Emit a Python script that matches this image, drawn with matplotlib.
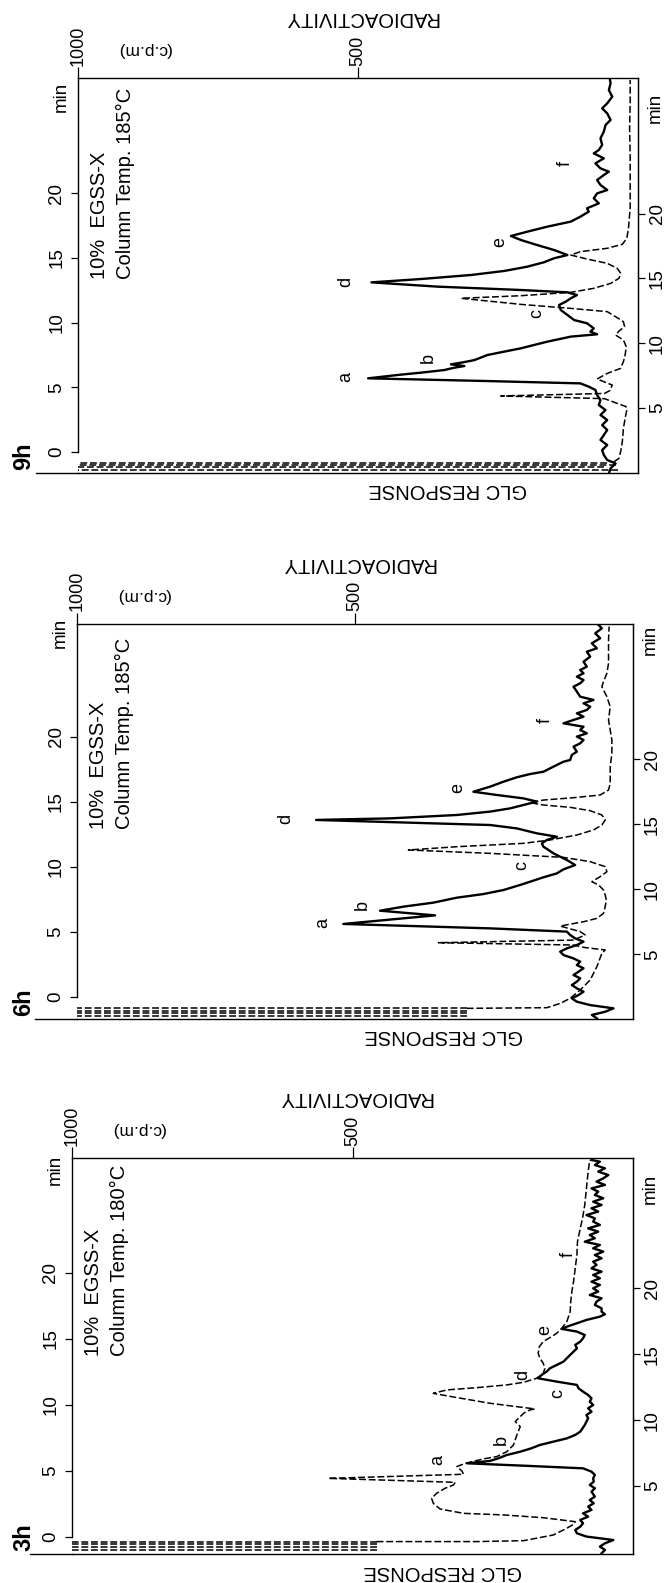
import matplotlib.pyplot as plt
from matplotlib.transforms import blended_transform_factory

W, H = 666, 1583
FONT = ["Liberation Sans", "DejaVu Sans"]

# ---------------- 9h ----------------
t9_rad = [-1.65, -1.26, -0.88, -0.62, -0.23, 0.15, 0.54, 0.93, 1.31, 1.70, 2.08, 2.47, 2.86, 3.24, 3.63,
          4.02, 4.40, 4.79, 5.05, 5.30, 5.48, 5.69, 5.95, 6.13, 6.33, 6.51, 6.64, 6.77, 6.92, 7.10, 7.49,
          8.01, 8.52, 8.91, 9.09, 9.29, 9.55, 9.94, 10.19, 10.58, 10.97, 11.35, 11.61, 11.87, 12.12, 12.33,
          12.51, 12.77, 13.10, 13.36, 13.67, 13.98, 14.31, 14.65, 14.96, 15.21, 15.60, 15.98, 16.37, 16.68,
          17.01, 17.40, 17.79, 18.17, 18.56, 18.82, 19.20, 19.59, 19.97, 20.23, 20.62, 21.00, 21.39, 21.65,
          21.90, 22.29, 22.68, 23.06, 23.32, 23.71, 24.22, 24.74, 25.25, 25.64, 26.15, 26.54, 26.92, 27.44,
          27.95, 28.47, 28.73]
v9_rad = [52, 49, 40, 55, 61, 64, 55, 67, 61, 55, 64, 55, 67, 58, 70, 67, 73, 76, 88, 103, 269, 482, 429,
          387, 346, 328, 310, 334, 313, 292, 269, 209, 162, 120, 73, 85, 79, 91, 114, 126, 138, 141, 129,
          120, 109, 126, 209, 358, 476, 387, 298, 239, 198, 168, 150, 126, 150, 180, 209, 227, 198, 162,
          120, 103, 88, 91, 70, 79, 73, 55, 67, 73, 61, 52, 67, 76, 61, 79, 70, 64, 67, 61, 58, 49, 55, 64,
          55, 46, 52, 49, 50]
t9_glc = [-0.75, -0.49, 0.03, 0.80, 1.83, 2.60, 3.24, 3.50, 4.12, 4.33, 4.52, 4.75, 5.17, 5.64, 6.07, 6.46,
          6.98, 7.49, 8.13, 8.65, 9.03, 9.34, 9.68, 10.06, 10.37, 10.84, 11.09, 11.40, 11.87, 12.07, 12.33,
          12.64, 13.02, 13.41, 13.80, 14.18, 14.57, 14.90, 15.21, 15.47, 15.73, 16.04, 16.50, 17.27, 18.82,
          20.88, 22.93, 24.99, 27.05, 28.73]
v9_glc = [43, 34, 31, 28, 26, 23, 20, 21, 60, 245, 60, 50, 46, 73, 55, 31, 26, 23, 21, 26, 40, 34, 24, 26,
          37, 55, 120, 209, 316, 209, 120, 79, 49, 34, 31, 37, 55, 91, 120, 103, 55, 28, 20, 17, 14, 14, 14,
          15, 14, 14]
t9_solvent = [-0.82, -1.00, -1.18, -1.36]
v9_solvent = [55, 40, 60, 35]
v9_peak = [521, 375, 180, 521, 246, 130]
t9_peak = [5.8, 7.26, 10.7, 13.1, 16.2, 22.3]

# ---------------- 6h ----------------
t6_rad = [-1.64, -1.38, -1.13, -0.87, -0.62, -0.36, -0.10, 0.15, 0.41, 0.67, 0.92, 1.18, 1.44, 1.69, 1.95,
          2.21, 2.46, 2.72, 2.97, 3.23, 3.49, 3.74, 4.00, 4.26, 4.51, 4.77, 5.03, 5.28, 5.62, 6.28, 6.64,
          6.95, 7.26, 7.64, 7.92, 8.23, 8.62, 8.87, 9.21, 9.51, 9.82, 10.15, 10.54, 10.79, 11.05, 11.31,
          11.56, 11.82, 12.08, 12.33, 12.59, 12.97, 13.23, 13.62, 13.74, 14.00, 14.26, 14.51, 14.77, 15.03,
          15.28, 15.54, 15.79, 16.18, 16.56, 16.90, 17.15, 17.33, 17.59, 17.85, 18.10, 18.23, 18.62, 18.87,
          19.26, 19.51, 19.77, 20.03, 20.28, 20.54, 20.79, 21.05, 21.31, 21.56, 21.82, 22.08, 22.33, 22.59,
          22.85, 23.10, 23.49, 23.87, 24.13, 24.38, 24.64, 24.90, 25.15, 25.41, 25.79, 26.18, 26.56, 26.82,
          27.21, 27.59, 27.97, 28.36, 28.62]
v6_rad = [65, 74, 50, 35, 77, 101, 110, 98, 89, 101, 110, 101, 95, 107, 98, 89, 101, 95, 107, 125, 131, 119,
          101, 89, 104, 113, 119, 257, 521, 356, 455, 413, 359, 317, 269, 233, 203, 185, 161, 137, 125, 104,
          119, 131, 143, 152, 161, 164, 155, 137, 173, 209, 257, 570, 437, 317, 257, 221, 197, 173, 197, 245,
          287, 257, 233, 209, 185, 161, 149, 137, 125, 113, 110, 101, 107, 95, 89, 101, 83, 95, 89, 125, 107,
          89, 101, 83, 77, 89, 71, 95, 101, 107, 95, 89, 101, 89, 95, 83, 89, 77, 83, 65, 74, 59, 68, 56, 62]
t6_glc = [-0.87, -0.82, -0.49, -0.10, 0.54, 1.31, 2.33, 3.36, 3.62, 3.82, 4.00, 4.18, 4.38, 4.77, 5.03,
          5.46, 5.79, 6.05, 6.44, 6.95, 7.46, 7.85, 8.23, 8.62, 8.87, 9.26, 9.64, 10.03, 10.41, 10.74, 11.05,
          11.31, 11.56, 11.82, 12.08, 12.46, 12.85, 13.23, 13.62, 14.00, 14.33, 14.59, 14.77, 14.95, 15.15,
          15.33, 15.54, 15.92, 16.44, 17.72, 18.74, 19.77, 20.54, 21.31, 22.33, 23.10, 23.87, 24.26, 24.90,
          25.67, 26.44, 27.46, 28.49]
v6_glc = [299, 155, 131, 113, 95, 77, 65, 56, 50, 89, 107, 350, 107, 86, 95, 131, 89, 65, 53, 50, 48, 50,
          53, 62, 74, 59, 47, 50, 77, 125, 257, 404, 317, 197, 149, 101, 71, 56, 50, 56, 77, 113, 161, 185,
          161, 107, 59, 44, 41, 41, 38, 38, 41, 44, 41, 47, 56, 53, 47, 44, 44, 44, 43]
t6_solvent = [-0.87, -1.05, -1.26, -1.46]
v6_solvent = [299, 299, 299, 299]
v6_peak = [558, 487, 200, 625, 315, 158]
t6_peak = [5.7, 7.1, 10.1, 13.7, 16.1, 21.3]

# ---------------- 3h ----------------
t3_rad = [-1.24, -0.98, -0.73, -0.48, -0.23, 0.03, 0.28, 0.53, 0.78, 1.04, 1.29, 1.54, 1.79, 2.05, 2.30,
          2.55, 2.80, 3.06, 3.43, 3.69, 3.94, 4.19, 4.44, 4.70, 4.95, 5.20, 5.40, 5.58, 5.76, 5.96, 6.21,
          6.46, 6.72, 6.97, 7.22, 7.47, 7.73, 7.98, 8.23, 8.48, 8.74, 8.99, 9.24, 9.49, 9.75, 10.00, 10.25,
          10.50, 10.76, 11.01, 11.26, 11.52, 11.77, 12.02, 12.27, 12.53, 12.78, 13.03, 13.28, 13.54, 13.79,
          14.04, 14.29, 14.55, 14.80, 15.05, 15.30, 15.56, 15.76, 15.93, 16.19, 16.44, 16.69, 16.87, 17.07,
          17.32, 17.58, 17.83, 18.08, 18.33, 18.59, 18.84, 19.09, 19.34, 19.60, 19.85, 20.10, 20.35, 20.61,
          20.86, 21.11, 21.36, 21.62, 21.87, 22.12, 22.37, 22.63, 22.88, 23.13, 23.38, 23.64, 23.89, 24.14,
          24.39, 24.65, 24.90, 25.15, 25.40, 25.66, 25.91, 26.16, 26.41, 26.67, 26.92, 27.17, 27.42, 27.68,
          27.93, 28.18, 28.43, 28.56]
v3_rad = [56, 50, 59, 50, 35, 83, 100, 103, 94, 89, 94, 80, 89, 74, 80, 70, 77, 68, 74, 68, 77, 70, 71, 68,
          74, 89, 195, 296, 255, 240, 225, 201, 181, 166, 142, 118, 103, 94, 90, 86, 83, 80, 83, 74, 80, 71,
          77, 74, 80, 89, 97, 100, 136, 169, 163, 154, 148, 136, 124, 118, 112, 106, 100, 103, 94, 89, 86,
          100, 127, 118, 100, 83, 59, 50, 56, 56, 68, 65, 56, 77, 62, 71, 59, 74, 59, 71, 56, 74, 65, 71, 56,
          68, 53, 71, 59, 86, 68, 77, 62, 80, 59, 71, 68, 83, 62, 74, 56, 71, 53, 68, 62, 74, 50, 65, 53, 44,
          62, 50, 68, 59, 74]
t3_glc = [-0.35, -0.35, -0.28, 0.15, 0.66, 0.96, 1.16, 1.46, 1.67, 1.79, 2.12, 2.55, 2.93, 3.31, 3.69,
          3.94, 4.14, 4.44, 4.75, 5.00, 5.33, 5.58, 5.91, 6.09, 6.46, 6.97, 7.73, 8.36, 8.74, 9.12, 9.37,
          9.62, 9.70, 10.13, 10.56, 10.88, 11.14, 11.31, 11.52, 11.72, 12.02, 12.40, 12.78, 13.16, 13.54,
          13.91, 14.42, 14.80, 15.18, 15.43, 15.81, 16.31, 17.07, 17.83, 18.59, 19.34, 20.35, 21.36, 22.37,
          23.38, 24.14, 25.15, 26.41, 27.68, 28.56]
v3_glc = [457, 279, 195, 142, 118, 106, 103, 160, 231, 302, 344, 356, 359, 350, 335, 320, 317, 543, 302,
          305, 314, 299, 267, 243, 225, 213, 207, 201, 210, 201, 195, 184, 175, 255, 314, 356, 332, 279, 225,
          195, 172, 160, 157, 160, 166, 169, 167, 160, 145, 136, 127, 118, 112, 111, 109, 106, 103, 100, 99,
          94, 90, 86, 83, 80, 77]
t3_solvent = [-0.35, -0.55, -0.75, -0.95]
v3_solvent = [457, 457, 457, 457]
v3_peak = [348, 234, 134, 196, 157, 116]
t3_peak = [5.83, 7.35, 10.9, 12.3, 15.7, 21.4]

peak_names = ["a", "b", "c", "d", "e", "f"]
time_ticks = [0, 5, 10, 15, 20]
rad_ticks = [1000, 500]

fig = plt.figure(figsize=(W / 100, H / 100), dpi=100)
fig.patch.set_facecolor("white")


def panel(box, tlim, rad, glc, solvent, peaks, tag, temp, offset, tmin, text_y):
    left, right, top, bottom = box
    ax = fig.add_axes([left / W, 1 - bottom / H, (right - left) / W, (bottom - top) / H])
    ax.set_xlim(1000, 0)
    ax.set_ylim(*tlim)
    ax.set_facecolor("none")
    for s in ax.spines.values():
        s.set_linewidth(1.0)
    ax.spines["left"].set_bounds(0, tlim[1])

    ax.plot(rad[1], rad[0], color="black", lw=1.7, solid_joinstyle="round")
    ax.plot(glc[1], glc[0], color="black", lw=1.1, dashes=(4.5, 1.8))
    for t, v in zip(*solvent):
        ax.plot([v, 1000], [t, t], color="black", lw=1.1, dashes=(4.5, 1.8))

    for name, v, t in zip(peak_names, peaks[0], peaks[1]):
        ax.text(v, t, name, rotation=90, ha="center", va="center", fontsize=13, family=FONT)

    ax.set_yticks(time_ticks)
    ax.set_yticklabels([str(t) for t in time_ticks], rotation=90, va="center", family=FONT)
    ax.tick_params(axis="y", direction="out", length=5, width=0.9, pad=4, labelsize=13.5)

    ax.xaxis.tick_top()
    ax.set_xticks(rad_ticks)
    ax.set_xticklabels([str(v) for v in rad_ticks], rotation=90, family=FONT)
    ax.tick_params(axis="x", direction="out", length=8, width=0.9, pad=1, labelsize=13)

    sec = ax.secondary_yaxis("right", functions=(lambda t: t + offset, lambda t: t - offset))
    sec.set_yticks(time_ticks[1:])
    sec.set_yticklabels([str(t) for t in time_ticks[1:]], rotation=90, va="center", family=FONT)
    sec.tick_params(direction="out", length=5, width=0.9, pad=3, labelsize=13.5)

    tr = blended_transform_factory(ax.transAxes, ax.transData)
    ax.text(-0.03, tmin[0], "min", transform=tr, rotation=90, ha="center", va="center",
            fontsize=13.5, family=FONT)
    ax.text(1.031, tmin[1], "min", transform=tr, rotation=90, ha="center", va="center",
            fontsize=13.5, family=FONT)

    ax.text(0.038, text_y, "10%  EGSS-X", transform=ax.transAxes, rotation=90, rotation_mode="anchor",
            ha="left", va="center", fontsize=14.5, family=FONT)
    ax.text(0.085, text_y, f"Column Temp. {temp}°C", transform=ax.transAxes, rotation=90,
            rotation_mode="anchor", ha="left", va="center", fontsize=14.5, family=FONT)

    # labels outside the frame
    fig.text(24 / W, 1 - (bottom - 17) / H, tag, rotation=90, ha="center", va="center",
             fontsize=17, weight="bold", family=FONT)
    fig.text((left + 0.505 * (right - left)) / W, 1 - (top - 60) / H, "RADIOACTIVITY", rotation=180,
             ha="center", va="center", fontsize=14.5, family=FONT)
    fig.text((left + 66) / W, 1 - (top - 28) / H, "(c.p.m)", rotation=180, ha="center", va="center",
             fontsize=12.5, family=FONT)
    fig.text((left + 0.66 * (right - left)) / W, 1 - (bottom + 17) / H, "GLC RESPONSE", rotation=180,
             ha="center", va="center", fontsize=14.5, family=FONT)
    ax.plot([-0.075, 0], [0, 0], transform=ax.transAxes, color="black", lw=1.0, clip_on=False)
    return ax


panel((78, 638, 78, 473), (-1.62, 28.88), (t9_rad, v9_rad), (t9_glc, v9_glc), (t9_solvent, v9_solvent),
      (v9_peak, t9_peak), "9h", 185, 1.6, (27.4, 26.6), 0.49)
panel((77, 633, 624, 1019), (-1.69, 28.69), (t6_rad, v6_rad), (t6_glc, v6_glc), (t6_solvent, v6_solvent),
      (v6_peak, t6_peak), "6h", 185, 1.72, (28.0, 27.5), 0.48)
panel((72, 633, 1158, 1554), (-1.29, 28.71), (t3_rad, v3_rad), (t3_glc, v3_glc), (t3_solvent, v3_solvent),
      (v3_peak, t3_peak), "3h", 180, 1.15, (27.8, 26.4), 0.50)

fig.savefig("out.png", dpi=100)
